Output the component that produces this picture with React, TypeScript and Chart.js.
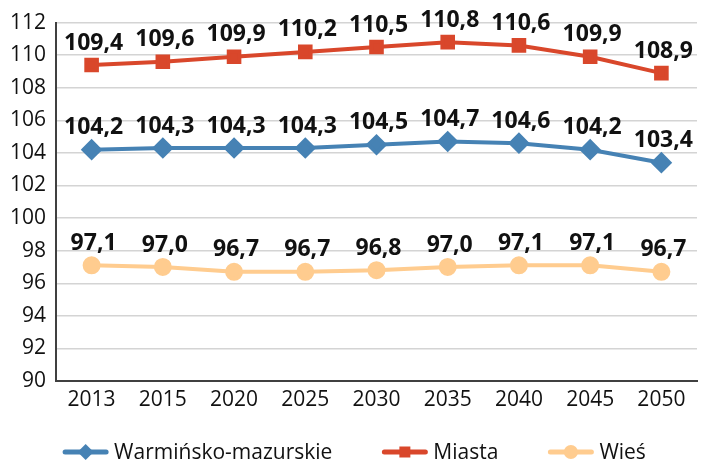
import React, { useEffect, useRef } from "react";
import { Chart, registerables } from "chart.js";

Chart.register(...registerables);

const categories = ["2013", "2015", "2020", "2025", "2030", "2035", "2040", "2045", "2050"];
const warminskoValues = [104.2, 104.3, 104.3, 104.3, 104.5, 104.7, 104.6, 104.2, 103.4];
const miastaValues = [109.4, 109.6, 109.9, 110.2, 110.5, 110.8, 110.6, 109.9, 108.9];
const wiesValues = [97.1, 97.0, 96.7, 96.7, 96.8, 97.0, 97.1, 97.1, 96.7];
const seriesNames = ["Warmińsko-mazurskie", "Miasta", "Wieś"];

const FONT = "'Open Sans', 'DejaVu Sans', sans-serif";

const dataLabelsPlugin = {
  id: "dataLabels",
  afterDatasetsDraw(chart: any) {
    const ctx = chart.ctx;
    ctx.save();
    ctx.font = `bold 23px ${FONT}`;
    ctx.fillStyle = "#111111";
    ctx.textAlign = "center";
    ctx.textBaseline = "middle";
    chart.data.datasets.forEach((ds: any, i: number) => {
      const meta = chart.getDatasetMeta(i);
      meta.data.forEach((pt: any, j: number) => {
        const v = ds.data[j] as number;
        ctx.fillText(v.toFixed(1).replace(".", ","), pt.x + 2, pt.y - 22);
      });
    });
    ctx.restore();
  },
};

const legendPlugin = {
  id: "customLegend",
  afterDraw(chart: any) {
    const ctx = chart.ctx;
    ctx.save();
    ctx.font = `21px ${FONT}`;
    const lineW = 45;
    const gapText = 6;
    const gapItems = 50;
    const items = chart.data.datasets.map((ds: any) => ({
      ds,
      tw: ctx.measureText(ds.label).width,
    }));
    const total =
      items.reduce((s: number, it: any) => s + lineW + gapText + it.tw, 0) +
      gapItems * (items.length - 1);
    let x = (chart.width - total) / 2;
    const y = 452;
    items.forEach((it: any) => {
      const ds = it.ds;
      ctx.strokeStyle = ds.borderColor;
      ctx.lineWidth = 5;
      ctx.lineCap = "round";
      ctx.beginPath();
      ctx.moveTo(x + 2, y);
      ctx.lineTo(x + lineW - 2, y);
      ctx.stroke();
      const cx = x + lineW / 2;
      ctx.fillStyle = ds.pointBackgroundColor;
      ctx.beginPath();
      if (ds.pointStyle === "rectRot") {
        const r = 8;
        ctx.moveTo(cx, y - r);
        ctx.lineTo(cx + r, y);
        ctx.lineTo(cx, y + r);
        ctx.lineTo(cx - r, y);
        ctx.closePath();
      } else if (ds.pointStyle === "rect") {
        ctx.rect(cx - 5.5, y - 5.5, 11, 11);
      } else {
        ctx.arc(cx, y, 7, 0, Math.PI * 2);
      }
      ctx.fill();
      ctx.fillStyle = "#111111";
      ctx.textAlign = "left";
      ctx.textBaseline = "middle";
      ctx.fillText(ds.label, x + lineW + gapText, y + 1);
      x += lineW + gapText + it.tw + gapItems;
    });
    ctx.restore();
  },
};

export default function App() {
  const ref = useRef<HTMLCanvasElement | null>(null);
  useEffect(() => {
    if (!ref.current) return;
    const chart = new Chart(ref.current, {
      type: "line",
      data: {
        labels: categories,
        datasets: [
          {
            label: seriesNames[0],
            data: warminskoValues,
            borderColor: "#4682B4",
            backgroundColor: "#4682B4",
            pointBackgroundColor: "#4682B4",
            pointBorderColor: "#4682B4",
            pointStyle: "rectRot",
            pointRadius: 8,
            borderWidth: 4,
          },
          {
            label: seriesNames[1],
            data: miastaValues,
            borderColor: "#D9472B",
            backgroundColor: "#D9472B",
            pointBackgroundColor: "#D9472B",
            pointBorderColor: "#D9472B",
            pointStyle: "rect",
            pointRadius: 7.5,
            borderWidth: 4,
          },
          {
            label: seriesNames[2],
            data: wiesValues,
            borderColor: "#FFCC8F",
            backgroundColor: "#FFCC8F",
            pointBackgroundColor: "#FFCC8F",
            pointBorderColor: "#FFCC8F",
            pointStyle: "circle",
            pointRadius: 7,
            borderWidth: 4,
          },
        ],
      },
      options: {
        responsive: false,
        animation: false,
        layout: { padding: { top: 22, right: 0, left: 0, bottom: 0 } },
        plugins: {
          legend: { display: false },
          tooltip: { enabled: false },
        },
        scales: {
          x: {
            offset: true,
            grid: { display: false, drawTicks: false },
            border: { display: true, color: "#404040", width: 2 },
            ticks: {
              color: "#111111",
              font: { family: FONT, size: 21 },
              padding: 6,
              maxRotation: 0,
            },
            afterFit(scale: any) {
              scale.height = 83;
            },
          },
          y: {
            min: 90,
            max: 112,
            ticks: {
              stepSize: 2,
              color: "#111111",
              font: { family: FONT, size: 21 },
              padding: 10,
            },
            grid: { color: "#D4D4D4", lineWidth: 1.5, drawTicks: false },
            border: { display: true, color: "#404040", width: 2 },
            afterFit(scale: any) {
              scale.width = 56;
            },
          },
        },
      },
      plugins: [dataLabelsPlugin, legendPlugin],
    });
    return () => chart.destroy();
  }, []);
  return (
    <div style={{ position: "absolute", left: 0, top: 0, width: 709, height: 464, background: "#fff" }}>
      <canvas ref={ref} width={709} height={464} style={{ display: "block" }} />
    </div>
  );
}
